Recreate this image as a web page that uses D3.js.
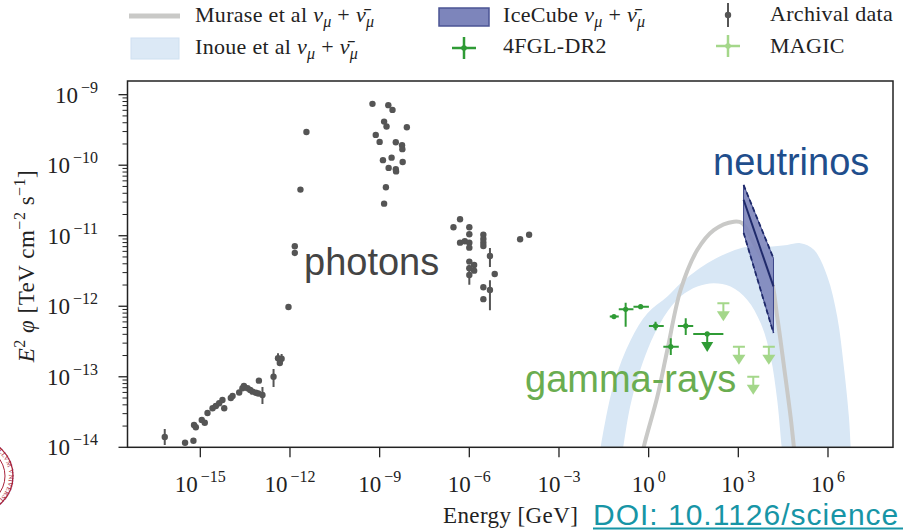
<!DOCTYPE html>
<html>
<head>
<meta charset="utf-8">
<script src="https://cdn.jsdelivr.net/npm/d3@7"></script>
<style>
  body { margin: 0; background: #fff; }
  svg { display: block; }
</style>
</head>
<body>
<svg id="chart" width="903" height="531"></svg>
<script>
// energies in GeV, fluxes in TeV cm^-2 s^-1

// archival photon data
const archE = [6.46e-17, 3.09e-16, 5.89e-16, 6.17e-16, 7.08e-16, 1.12e-15, 1.41e-15, 1.74e-15, 2.57e-15, 3.31e-15,
  4.27e-15, 5.50e-15, 6.31e-15, 1.05e-14, 1.20e-14, 2.00e-14, 2.57e-14, 2.88e-14, 3.80e-14, 4.68e-14,
  5.62e-14, 7.24e-14, 8.71e-14, 9.12e-14, 1.20e-13, 2.82e-13, 3.98e-13, 5.25e-13, 4.57e-13, 8.91e-13,
  1.45e-12, 1.45e-12, 2.24e-12, 3.55e-12,
  5.75e-10, 1.95e-9, 2.69e-9, 1.41e-9, 1.70e-9, 8.13e-9, 7.41e-10, 1.00e-9, 3.47e-9, 5.62e-9,
  5.75e-9, 1.29e-9, 2.51e-9, 5.89e-9, 2.00e-9, 3.47e-9, 3.55e-9, 1.62e-9, 1.41e-9,
  2.95e-7, 4.90e-7, 1.0e-6, 1.0e-6, 4.90e-7, 7.08e-7, 1.0e-6, 1.0e-6, 2.95e-6, 2.95e-6,
  2.95e-6, 2.95e-6, 4.90e-6, 1.0e-6, 1.45e-6, 1.0e-6, 1.45e-6, 1.0e-6, 7.08e-6, 2.95e-6,
  4.90e-6, 2.95e-6, 5.01e-5, 1.0e-4];
const archF = [1.40e-14, 1.16e-14, 1.24e-14, 2.07e-14, 1.92e-14, 2.44e-14, 2.23e-14, 3.07e-14, 3.57e-14, 3.86e-14,
  4.21e-14, 4.69e-14, 3.57e-14, 5.01e-14, 5.35e-14, 5.98e-14, 6.87e-14, 7.41e-14, 6.87e-14, 6.50e-14,
  6.15e-14, 5.94e-14, 5.79e-14, 8.81e-14, 5.52e-14, 1.00e-13, 1.83e-13, 1.80e-13, 1.57e-13, 9.77e-13,
  7.10e-12, 5.70e-12, 4.51e-11, 2.96e-10,
  7.41e-10, 7.10e-10, 6.08e-10, 4.15e-10, 3.53e-10, 3.46e-10, 2.69e-10, 2.14e-10, 2.12e-10, 1.92e-10,
  1.69e-10, 1.18e-10, 1.28e-10, 1.11e-10, 9.16e-11, 8.77e-11, 8.17e-11, 4.88e-11, 2.85e-11,
  1.32e-11, 1.71e-11, 1.32e-11, 1.05e-11, 7.98e-12, 8.36e-12, 7.98e-12, 6.78e-12, 1.03e-11, 9.02e-12,
  7.98e-12, 7.16e-12, 5.16e-12, 4.30e-12, 3.86e-12, 3.46e-12, 3.20e-12, 2.78e-12, 2.87e-12, 1.86e-12,
  1.70e-12, 1.26e-12, 8.91e-12, 1.03e-11];
const archErrE = [6.46e-17, 1.20e-13, 2.82e-13, 3.98e-13, 5.25e-13, 4.90e-6, 1.0e-6, 4.90e-6];
const archErrLo = [1.08e-14, 4.11e-14, 7.16e-14, 1.56e-13, 1.53e-13, 3.60e-12, 2.01e-12, 8.81e-13];
const archErrHi = [1.82e-14, 7.16e-14, 1.29e-13, 2.15e-13, 2.11e-13, 6.71e-12, 3.86e-12, 2.34e-12];

// 4FGL-DR2 gamma rays
const fglE = [0.069, 0.17, 0.54, 1.70, 5.5, 17.4];
const fglElo = [0.050, 0.10, 0.31, 1.02, 3.1, 9.5];
const fglEhi = [0.10, 0.31, 1.02, 3.2, 10.2, 31];
const fglF = [7.13e-13, 9.06e-13, 9.86e-13, 5.26e-13, 2.67e-13, 5.26e-13];
const fglFlo = [7.13e-13, 5.14e-13, 9.30e-13, 4.57e-13, 2.04e-13, 3.92e-13];
const fglFhi = [7.13e-13, 1.12e-12, 1.05e-12, 6.03e-13, 3.52e-13, 6.76e-13];
const fglUlE = [91], fglUlElo = [31], fglUlEhi = [316], fglUlF = [4.05e-13];

// MAGIC upper limits
const magicE = [316, 1047, 1.05e4, 3162];
const magicF = [1.10e-12, 2.67e-13, 2.67e-13, 9.98e-14];

// IceCube butterfly
const iceE = [1.5e3, 1.5e4];
const iceUp = [5.25e-11, 4.79e-12];
const iceLo = [1.10e-11, 4.17e-13];
const iceBest = [3.24e-11, 1.91e-12];

// Murase et al curve
const murE = [0.50, 0.69, 1.95, 4.22, 11.7, 42.7, 151, 708, 1.35e3, 3.24e3, 1.2e4, 2.0e4, 3.39e4, 5.62e4, 7.24e4, 8.91e4];
const murF = [5e-15, 1.02e-14, 5.22e-14, 2.40e-13, 1.70e-12, 6.31e-12, 1.20e-11, 1.58e-11, 1.51e-11, 7.94e-12,
  2.63e-12, 7.08e-13, 1.38e-13, 2.69e-14, 1e-14, 4e-15];

// Inoue et al band
const inoUpE = [0.020, 0.0248, 0.069, 0.251, 0.912, 4.22, 11.7, 91.2, 550, 2.0e3, 9.3e3, 4.37e4, 1.2e5, 3.39e5, 9.55e5, 2.04e6, 3.39e6, 5.01e6, 5.75e6, 6.6e6];
const inoUpF = [5e-15, 1e-14, 8.09e-14, 3.33e-13, 7.94e-13, 1.37e-12, 2.12e-12, 4.07e-12, 5.94e-12, 7.0e-12, 7.0e-12, 7.41e-12, 7.83e-12, 6.31e-12, 2.63e-12, 7.08e-13, 1.39e-13, 2.72e-14, 1e-14, 4e-15];
const inoLoE = [0.11, 0.141, 0.27, 0.912, 3.24, 11.7, 42.7, 151, 550, 2.0e3, 5.62e3, 1.2e4, 2.0e4, 2.82e4, 3.55e4];
const inoLoF = [5e-15, 1e-14, 4.68e-14, 2.40e-13, 7.08e-13, 1.37e-12, 1.90e-12, 2.12e-12, 1.90e-12, 1.23e-12, 5.74e-13, 1.93e-13, 4.68e-14, 1e-14, 4e-15];

// axes
const xTicks = [1e-15, 1e-12, 1e-9, 1e-6, 1e-3, 1, 1e3, 1e6];
const xTickExp = ['−15', '−12', '−9', '−6', '−3', '0', '3', '6'];
const yTicks = [1e-14, 1e-13, 1e-12, 1e-11, 1e-10, 1e-9];
const yTickExp = ['−14', '−13', '−12', '−11', '−10', '−9'];

const SERIF = '"Liberation Serif", "DejaVu Serif", serif';
const SANS = '"Liberation Sans", Arial, sans-serif';
const GREEN = '#2f9b35', LIGHTGREEN = '#a4d78a', GREY = '#555';
const INK = '#222';

const svg = d3.select('#chart');
const plot = { left: 127.5, right: 893, top: 81, bottom: 447.3 };

const x = d3.scaleLog().domain([Math.pow(10, -17.436), Math.pow(10, 8.175)]).range([plot.left, plot.right]);
const y = d3.scaleLog().domain([1e-14, Math.pow(10, -8.806)]).range([plot.bottom, plot.top]);

const defs = svg.append('defs');
defs.append('clipPath').attr('id', 'clip')
  .append('rect').attr('x', plot.left).attr('y', plot.top)
  .attr('width', plot.right - plot.left).attr('height', plot.bottom - plot.top);

const g = svg.append('g').attr('clip-path', 'url(#clip)');
const smooth = d3.line().curve(d3.curveCatmullRom.alpha(0.5));

// Inoue band
const upPts = inoUpE.map((e, i) => [x(e), y(inoUpF[i])]);
const loPts = inoLoE.map((e, i) => [x(e), y(inoLoF[i])]).reverse();
g.append('path')
  .attr('d', smooth(upPts) + 'L' + smooth(loPts).slice(1) + 'Z')
  .attr('fill', '#d8e7f5').attr('stroke', 'none');

// Murase curve
g.append('path')
  .attr('d', smooth(murE.map((e, i) => [x(e), y(murF[i])])))
  .attr('fill', 'none').attr('stroke', '#c9c9c7').attr('stroke-width', 4);

// IceCube butterfly
g.append('path')
  .attr('d', d3.line()([[x(iceE[0]), y(iceUp[0])], [x(iceE[1]), y(iceUp[1])], [x(iceE[1]), y(iceLo[1])], [x(iceE[0]), y(iceLo[0])]]) + 'Z')
  .attr('fill', '#7d85bb').attr('fill-opacity', 0.9).attr('stroke', '#3b4589').attr('stroke-width', 1);
[iceUp, iceLo].forEach(edge => {
  g.append('line')
    .attr('x1', x(iceE[0])).attr('y1', y(edge[0])).attr('x2', x(iceE[1])).attr('y2', y(edge[1]))
    .attr('stroke', '#1f2a6b').attr('stroke-width', 1.8).attr('stroke-dasharray', '5,3');
});
g.append('line')
  .attr('x1', x(iceE[0])).attr('y1', y(iceBest[0])).attr('x2', x(iceE[1])).attr('y2', y(iceBest[1]))
  .attr('stroke', '#1f2a6b').attr('stroke-width', 2);

// archival data
g.selectAll('.aerr').data(archErrE).enter().append('line')
  .attr('x1', d => x(d)).attr('x2', d => x(d))
  .attr('y1', (d, i) => y(archErrLo[i])).attr('y2', (d, i) => y(archErrHi[i]))
  .attr('stroke', GREY).attr('stroke-width', 2);
g.selectAll('.adot').data(archE).enter().append('circle')
  .attr('cx', d => x(d)).attr('cy', (d, i) => y(archF[i])).attr('r', 3.2)
  .attr('fill', GREY);

// 4FGL points
fglE.forEach((e, i) => {
  g.append('line').attr('x1', x(fglElo[i])).attr('x2', x(fglEhi[i]))
    .attr('y1', y(fglF[i])).attr('y2', y(fglF[i])).attr('stroke', GREEN).attr('stroke-width', 2);
  g.append('line').attr('x1', x(e)).attr('x2', x(e))
    .attr('y1', y(fglFlo[i])).attr('y2', y(fglFhi[i])).attr('stroke', GREEN).attr('stroke-width', 2);
  g.append('circle').attr('cx', x(e)).attr('cy', y(fglF[i])).attr('r', 2.6).attr('fill', GREEN);
});

function upperLimit(cx, cy, color, stem, triW, triH) {
  g.append('line').attr('x1', cx).attr('x2', cx).attr('y1', cy).attr('y2', cy + stem + 2)
    .attr('stroke', color).attr('stroke-width', 2);
  g.append('path')
    .attr('d', `M${cx - triW / 2},${cy + stem}L${cx + triW / 2},${cy + stem}L${cx},${cy + stem + triH}Z`)
    .attr('fill', color);
}

fglUlE.forEach((e, i) => {
  const cy = y(fglUlF[i]);
  g.append('line').attr('x1', x(fglUlElo[i])).attr('x2', x(fglUlEhi[i]))
    .attr('y1', cy).attr('y2', cy).attr('stroke', GREEN).attr('stroke-width', 2);
  g.append('circle').attr('cx', x(e)).attr('cy', cy).attr('r', 2.6).attr('fill', GREEN);
  upperLimit(x(e), cy, GREEN, 8, 12, 10);
});

magicE.forEach((e, i) => {
  const cx = x(e), cy = y(magicF[i]);
  g.append('line').attr('x1', cx - 6).attr('x2', cx + 6).attr('y1', cy).attr('y2', cy)
    .attr('stroke', LIGHTGREEN).attr('stroke-width', 2);
  upperLimit(cx, cy, LIGHTGREEN, 8, 13, 10);
});

// frame
svg.append('rect').attr('x', plot.left).attr('y', plot.top)
  .attr('width', plot.right - plot.left).attr('height', plot.bottom - plot.top)
  .attr('fill', 'none').attr('stroke', INK).attr('stroke-width', 1.5);

// "10" with an exponent, laid out as two texts so their boxes do not overlap
function powLabel(px, baseline, exp, anchor) {
  const gap = 3;
  const base = svg.append('text').attr('y', baseline)
    .attr('font-family', SERIF).attr('font-size', 23).attr('fill', INK).text('10');
  const sup = svg.append('text').attr('y', baseline - 10)
    .attr('font-family', SERIF).attr('font-size', 16).attr('fill', INK).text(exp);
  const wb = base.node().getComputedTextLength();
  const ws = sup.node().getComputedTextLength();
  const x0 = anchor === 'end' ? px - wb - ws - gap : px - (wb + ws + gap) / 2;
  base.attr('x', x0);
  sup.attr('x', x0 + wb + gap);
}

// y ticks
const minorY = y.ticks().filter(v => yTicks.indexOf(v) < 0);
svg.selectAll('.ymin').data(minorY).enter().append('line')
  .attr('x1', plot.left - 5).attr('x2', plot.left).attr('y1', d => y(d)).attr('y2', d => y(d))
  .attr('stroke', INK).attr('stroke-width', 1);
svg.selectAll('.ymaj').data(yTicks).enter().append('line')
  .attr('x1', plot.left - 9).attr('x2', plot.left).attr('y1', d => y(d)).attr('y2', d => y(d))
  .attr('stroke', INK).attr('stroke-width', 1.3);
yTicks.forEach((v, i) => powLabel(98, y(v) + 8, yTickExp[i], 'end'));

// x ticks
svg.selectAll('.xmaj').data(xTicks).enter().append('line')
  .attr('x1', d => x(d)).attr('x2', d => x(d)).attr('y1', plot.bottom).attr('y2', plot.bottom + 10)
  .attr('stroke', INK).attr('stroke-width', 1.3);
xTicks.forEach((v, i) => powLabel(x(v), 491.5, xTickExp[i], 'middle'));

// axis titles
svg.append('text').attr('x', 443).attr('y', 523)
  .attr('font-family', SERIF).attr('font-size', 23).attr('letter-spacing', 0.4)
  .attr('fill', INK).text('Energy [GeV]');

const yt = svg.append('text').attr('transform', 'translate(34,266) rotate(-90)')
  .attr('text-anchor', 'middle').attr('font-family', SERIF).attr('font-size', 23)
  .attr('letter-spacing', 0.5).attr('fill', INK);
yt.append('tspan').attr('font-style', 'italic').text('E');
yt.append('tspan').attr('dy', -9).attr('font-size', 16).text('2');
yt.append('tspan').attr('dy', 9).attr('font-style', 'italic').text(' φ');
yt.append('tspan').text(' [TeV cm');
yt.append('tspan').attr('dy', -9).attr('font-size', 16).text('−2');
yt.append('tspan').attr('dy', 9).text(' s');
yt.append('tspan').attr('dy', -9).attr('font-size', 16).text('−1');
yt.append('tspan').attr('dy', 9).text(']');

// annotations
svg.append('text').attr('x', 304).attr('y', 275).attr('font-family', SANS).attr('font-size', 38)
  .attr('fill', '#444').text('photons');
svg.append('text').attr('x', 713).attr('y', 175).attr('font-family', SANS).attr('font-size', 38)
  .attr('fill', '#1f4e8c').text('neutrinos');
svg.append('text').attr('x', 525).attr('y', 392).attr('font-family', SANS).attr('font-size', 38)
  .attr('fill', '#6aad50').text('gamma-rays');
svg.append('text').attr('x', 593).attr('y', 524.5).attr('font-family', SANS).attr('font-size', 30)
  .attr('letter-spacing', 1).attr('fill', '#1795a6').text('DOI: 10.1126/science');
svg.append('line').attr('x1', 593).attr('x2', 903).attr('y1', 528.5).attr('y2', 528.5)
  .attr('stroke', '#1795a6').attr('stroke-width', 2);

// legend
function nuLabel(sel, prefix) {
  sel.append('tspan').text(prefix);
  sel.append('tspan').attr('font-style', 'italic').text('ν');
  sel.append('tspan').attr('dy', 5).attr('font-size', 16).attr('font-style', 'italic').text('μ');
  sel.append('tspan').attr('dy', -5).text(' + ');
  sel.append('tspan').attr('font-style', 'italic').text('ν̄');
  sel.append('tspan').attr('dy', 5).attr('font-size', 16).attr('font-style', 'italic').text('μ');
}
const leg = svg.append('g').attr('font-family', SERIF).attr('font-size', 22)
  .attr('letter-spacing', 0.3).attr('fill', INK);

leg.append('line').attr('x1', 129).attr('x2', 180).attr('y1', 16).attr('y2', 16)
  .attr('stroke', '#c9c9c7').attr('stroke-width', 5);
nuLabel(leg.append('text').attr('x', 195).attr('y', 22), 'Murase et al ');

leg.append('rect').attr('x', 439).attr('y', 8).attr('width', 50).attr('height', 18)
  .attr('fill', '#7d85bb').attr('stroke', '#4b5494').attr('stroke-width', 1.5);
nuLabel(leg.append('text').attr('x', 503).attr('y', 22), 'IceCube ');

leg.append('line').attr('x1', 728).attr('x2', 728).attr('y1', 3).attr('y2', 27)
  .attr('stroke', GREY).attr('stroke-width', 2);
leg.append('circle').attr('cx', 728).attr('cy', 15).attr('r', 3.2).attr('fill', GREY);
leg.append('text').attr('x', 770).attr('y', 21).text('Archival data');

leg.append('rect').attr('x', 131).attr('y', 38).attr('width', 48).attr('height', 21)
  .attr('fill', '#dce9f6').attr('stroke', '#cfe0f1').attr('stroke-width', 1);
nuLabel(leg.append('text').attr('x', 195).attr('y', 54), 'Inoue et al ');

[[464, 48, GREEN], [728, 46, LIGHTGREEN]].forEach(([cx, cy, c]) => {
  leg.append('line').attr('x1', cx - 12).attr('x2', cx + 12).attr('y1', cy).attr('y2', cy).attr('stroke', c).attr('stroke-width', 2.5);
  leg.append('line').attr('x1', cx).attr('x2', cx).attr('y1', cy - 11).attr('y2', cy + 11).attr('stroke', c).attr('stroke-width', 2.5);
  leg.append('circle').attr('cx', cx).attr('cy', cy).attr('r', 2.8).attr('fill', c);
});
leg.append('text').attr('x', 503).attr('y', 53).text('4FGL-DR2');
leg.append('text').attr('x', 770).attr('y', 53).text('MAGIC');

// partial university seal at left edge
const seal = svg.append('g').attr('stroke', '#a8233a').attr('fill', 'none');
seal.append('circle').attr('cx', -24).attr('cy', 476).attr('r', 37).attr('stroke-width', 1.3);
seal.append('circle').attr('cx', -24).attr('cy', 476).attr('r', 29).attr('stroke-width', 1);
defs.append('path').attr('id', 'sealPath')
  .attr('d', 'M -24,443 A 33,33 0 1,1 -24,509 A 33,33 0 1,1 -24,443');
svg.append('text').attr('font-family', SERIF).attr('font-size', 7).attr('fill', '#a8233a')
  .append('textPath').attr('href', '#sealPath').attr('startOffset', '5%')
  .text('SIGILLVM VNIVERSITATIS LVNDENSIS');
</script>
</body>
</html>
